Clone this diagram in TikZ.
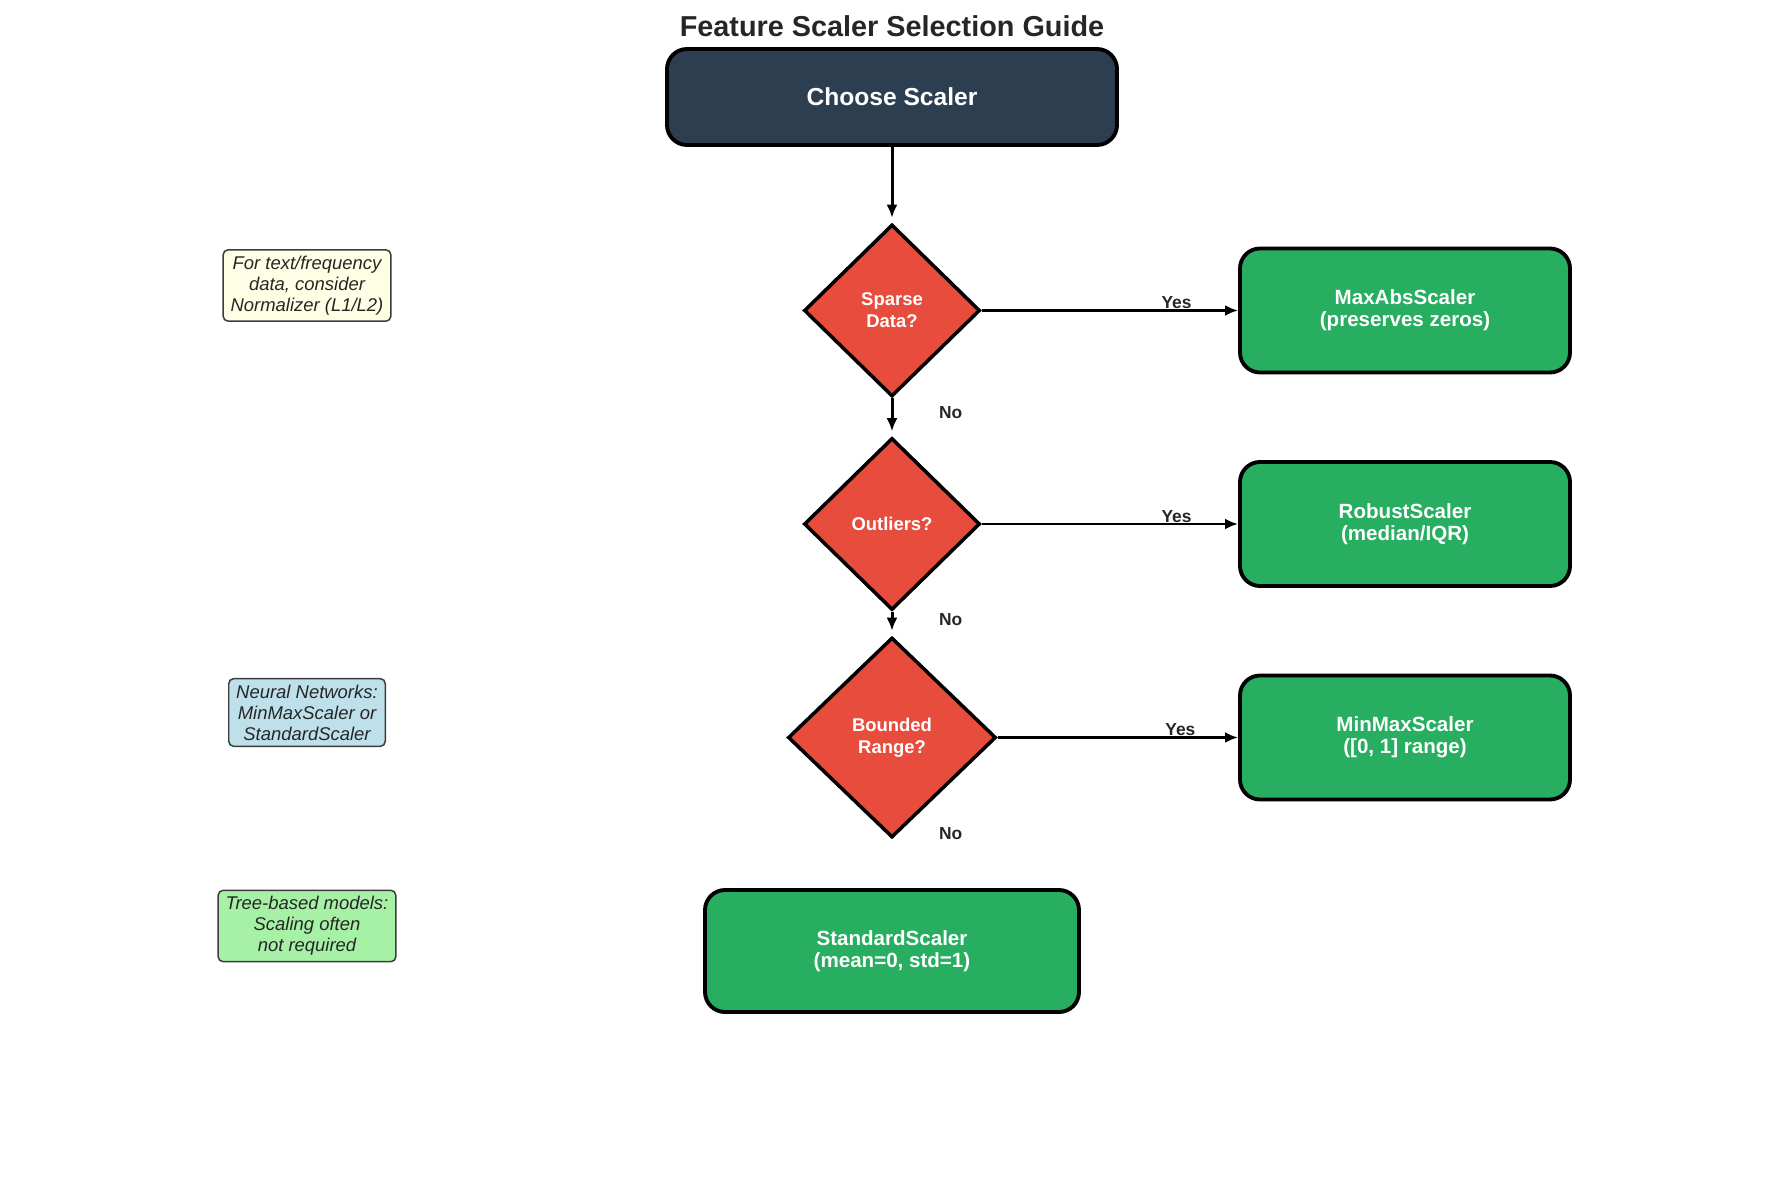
\documentclass[tikz,border=0pt]{standalone}
\usepackage{fontspec}
\setmainfont{Liberation Sans}
\usepackage{tikz}
\usetikzlibrary{positioning}
\usetikzlibrary{shapes,arrows.meta}
\definecolor{navy}{HTML}{2C3E50}
\definecolor{decred}{HTML}{E74C3C}
\definecolor{scgreen}{HTML}{27AE60}
\definecolor{noteyellow}{HTML}{FFFFE6}
\definecolor{noteblue}{HTML}{BDE0EB}
\definecolor{notegreen}{HTML}{A6F1A6}
\definecolor{inkgray}{HTML}{262626}
\tikzset{
	-{Latex[length=0.26cm,width=0.22cm]},auto,
	startbox/.style ={rectangle, rounded corners=0.4cm, draw=black, line width=2.2pt,
		fill=navy, text=white, minimum width=9cm, minimum height=1.92cm,
		font=\fontsize{14}{17}\selectfont\bfseries},
	decision/.style = {diamond, draw=black, line width=2pt, fill=decred, inner sep=0pt,
		text=white, align=center, font=\fontsize{10.5}{12.4}\selectfont\bfseries},
	scaler/.style = {rectangle, rounded corners=0.4cm, draw=black, line width=2.2pt,
		fill=scgreen, text=white, align=center, minimum width=6.6cm, minimum height=2.48cm,
		font=\fontsize{11.7}{12.6}\selectfont\bfseries},
	note/.style = {rectangle, rounded corners=0.1cm, draw=inkgray!90, line width=0.85pt,
		align=center, text=inkgray, inner xsep=0.15cm, inner ysep=0.12cm,
		font=\fontsize{10.5}{12}\selectfont\itshape},
	yeslbl/.style = {inner sep=0pt, pos=0.76, text=inkgray,
		font=\fontsize{9.9}{12}\selectfont\bfseries},
	nolbl/.style = {inner sep=0pt, xshift=0.91cm, text=inkgray,
		font=\fontsize{9.9}{12}\selectfont\bfseries},
}
\begin{document}
\begin{tikzpicture}[node distance = 4.27cm, line width = 1.7pt]
	\useasboundingbox (0,0) rectangle (35.7,-23.62);
	\node (title) at (17.84,-0.52) [text=inkgray, font=\fontsize{16.4}{19}\selectfont\bfseries] {Feature Scaler Selection Guide};
	\node (start) at (17.84,-1.94) [startbox] {Choose Scaler};
	\node (sparse) [decision, below of = start, minimum width=3.52cm, minimum height=3.44cm] {Sparse\\Data?};
	\node (outl) [decision, below of = sparse, minimum width=3.52cm, minimum height=3.44cm] {Outliers?};
	\node (bounded) [decision, below of = outl, minimum width=4.16cm, minimum height=4cm] {Bounded\\Range?};
	\node (standard) [scaler, below of = bounded, minimum width=7.48cm, minimum height=2.44cm] {StandardScaler\\(mean=0, std=1)};
	\node (maxabs) [scaler, right of = sparse, node distance = 10.26cm] {MaxAbsScaler\\(preserves zeros)};
	\node (robust) [scaler, right of = outl, node distance = 10.26cm] {RobustScaler\\(median/IQR)};
	\node (minmax) [scaler, right of = bounded, node distance = 10.26cm] {MinMaxScaler\\([0, 1] range)};
	\node (tipsparse) [note, fill=noteyellow, left of = sparse, node distance = 11.7cm, yshift=0.5cm] {For text/frequency\\data, consider\\Normalizer (L1/L2)};
	\node (tipnn) [note, fill=noteblue, left of = bounded, node distance = 11.7cm, yshift=0.5cm] {Neural Networks:\\MinMaxScaler or\\StandardScaler};
	\node (tiptree) [note, fill=notegreen, left of = standard, node distance = 11.7cm, yshift=0.5cm] {Tree-based models:\\Scaling often\\not required};
	\path (start) edge[shorten >= 0.1cm] (sparse);
	\path (sparse) edge node[yeslbl] {Yes} (maxabs);
	\path (sparse) edge[shorten >= 0.1cm] node[nolbl, pos=0.38] {No} (outl);
	\path (outl) edge node[yeslbl] {Yes} (robust);
	\path (outl) edge[shorten >= 0.1cm] node[nolbl, pos=0.31] {No} (bounded);
	\path (bounded) edge node[yeslbl] {Yes} (minmax);
	\node (nobounded) [nolbl, anchor=west, yshift=0.12cm] at (bounded.south) {No};
\end{tikzpicture}
\end{document}
